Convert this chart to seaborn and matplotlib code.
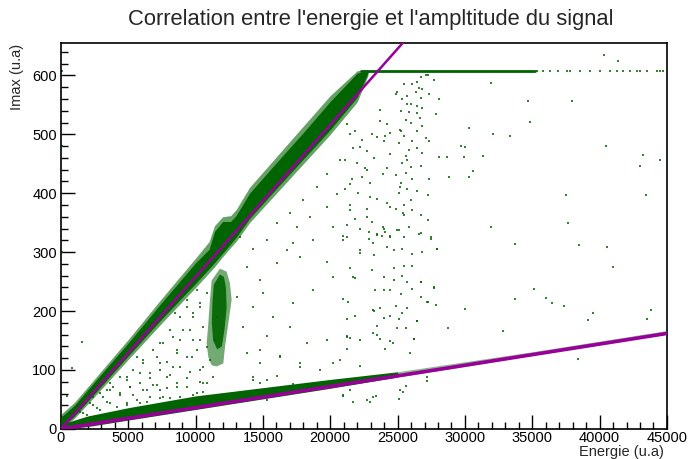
import numpy as np
import pandas as pd
import matplotlib
matplotlib.use("Agg")
import matplotlib.pyplot as plt
import seaborn as sns
from matplotlib.ticker import MultipleLocator

# ---------------- data ----------------
title = "Correlation entre l'energie et l'ampltitude du signal"
xlabel = "Energie (u.a)"
ylabel = "Imax (u.a)"

# dense upper band (energy, lower edge, upper edge)
up_x = [0, 1000, 2500, 5000, 7500, 10000, 11000, 11400, 12000, 12600, 13000, 14000, 16000, 18000, 20000, 22000, 22800]
up_lo = [0, 18, 55, 118, 180, 240, 265, 275, 292, 308, 318, 350, 400, 450, 500, 555, 600]
up_hi = [25, 45, 85, 152, 222, 290, 318, 345, 360, 362, 372, 410, 462, 514, 566, 608, 610]
# core of the upper band
upc_lo = [0, 22, 60, 124, 187, 247, 272, 282, 298, 314, 325, 357, 408, 458, 508, 563, 604]
upc_hi = [20, 40, 80, 146, 215, 282, 305, 335, 352, 352, 362, 400, 452, 503, 556, 604, 608]

# dense lower band
lo_x = [0, 300, 2000, 5000, 10000, 12500, 15000, 20000, 25000]
lo_lo = [0, 0, 4, 15, 33, 42, 51, 69, 88]
lo_hi = [22, 10, 22, 36, 56, 63, 70, 84, 97]
# sparse tail of the lower band
lot_x = [25000, 30000, 35000, 40000, 45000]
lot_lo = [88, 106, 125, 143, 161]
lot_hi = [97, 114, 131, 149, 167]

# vertical blob near E = 12000
blob_x = [11807, 11188, 11065, 10941, 10817, 10941, 11188, 11560, 12055, 12178, 12426, 12673, 12550, 12302]
blob_y = [272, 252, 219, 179, 145, 122, 108, 106, 111, 139, 179, 219, 247, 267]
core_x = [11800, 11350, 11250, 11200, 11300, 11600, 11950, 12150, 12300, 12250, 12100]
core_y = [262, 245, 215, 180, 150, 135, 140, 170, 205, 240, 258]

# saturation at Imax ~ 607
sat_x = [22300, 35200]
sat_y = [607, 607]
sat_dots_x = [35321, 35816, 36311, 36930, 37549, 37796, 38539, 39281, 40023, 40766, 41261,
              41756, 42251, 42746, 42994, 43489, 44231, 44479, 44726]

# isolated events
tri_x = [10074, 9331, 10321, 8465, 9826, 8094, 9578, 8836, 7599, 10321, 6856, 8589, 9702, 6114,
         7351, 8341, 5371, 6609, 7846, 9331, 4876, 5866, 7104, 8589, 3886, 4381, 5371, 6609, 3143,
         3639, 4876, 2401, 2896, 4134, 1411, 1906, 10321, 10569, 10074, 6361, 5619, 4381, 3391,
         5124, 7351, 7599, 5866, 1535, 792, 421]
tri_y = [235.6, 218.7, 207.4, 196, 190.4, 167.8, 167.8, 150.9, 145.2, 150.9, 133.9, 128.2, 122.6,
         111.3, 111.3, 105.6, 100, 94.4, 88.7, 85.9, 83, 77.4, 74.6, 71.8, 71.8, 60.5, 57.6, 54.8,
         54.8, 43.5, 40.7, 40.7, 32.2, 29.4, 29.4, 23.7, 100, 77.4, 60.5, 66.1, 122.6, 88.7, 66.1,
         71.8, 66.1, 54.8, 43.5, 148, 103, 55]

tri2_x = [1411, 2154, 2649, 3391, 4134, 4876, 5619, 6361, 7351, 8094, 8836, 9826, 10569, 2896,
          3639, 4381, 5124, 6114, 6856, 7846, 8589, 9331, 10321, 4876, 5866, 6609, 7351, 8094,
          8836, 9578, 10569, 6114, 7104, 7846, 8589, 9331, 10074, 10816, 7351, 8341, 9084, 9826,
          10569, 8836, 9826, 10321, 10816, 9331, 3639, 2401, 1659, 10816, 11311, 11064, 11435,
          11559]
tri2_y = [37.9, 43.5, 35.0, 46.3, 37.9, 43.5, 49.2, 46.3, 52.0, 52.0, 54.8, 57.6, 63.3, 60.4,
          66.1, 57.6, 71.7, 66.1, 74.6, 68.9, 77.4, 71.7, 80.2, 88.7, 94.3, 85.9, 100, 91.5,
          105.7, 97.2, 105.7, 117, 122.6, 114.1, 133.9, 122.6, 133.9, 139.5, 145.2, 156.5, 167.8,
          150.9, 173.4, 190.4, 196, 213, 230, 207.4, 77.4, 54.8, 26.5, 77.4, 88.7, 117, 150.9,
          190.4]

mid_x = [13291, 14281, 15271, 16756, 17251, 13786, 14776, 16014, 17746, 18736, 19726, 21211,
         22201, 23191, 13044, 14281, 15024, 15766, 17251, 18736, 20221, 21706, 23191, 13539,
         15271, 17004, 18241, 19726, 21211, 23191, 13786, 14776, 16261, 17746, 19231, 20716,
         22201, 14281, 16014, 15271, 17251, 18736, 20964, 22696,
         14281, 14776, 15271, 16014, 16509, 18736, 20221, 21211, 22201, 23439, 24676, 25914,
         27151, 25171, 23191, 21458, 17746, 16261, 14776]
mid_y = [326, 306, 320, 303, 315, 275, 253, 281, 292, 320, 284, 326, 298, 315, 224, 207, 230,
         190, 213, 236, 258, 258, 202, 173, 157, 173, 145, 151, 157, 162, 128, 111, 123, 111,
         100, 117, 106, 83, 89, 49, 77, 72, 55, 49,
         88.7, 77.4, 83, 69, 60.5, 71.8, 111.3, 156.5, 150.9, 159.3, 145.2, 128.3, 88.7, 66.1,
         54.8, 66.1, 105.7, 122.6, 133.9]

upr_x = [24925, 25668, 23688, 24183, 25173, 23440, 21460, 22203, 24430, 25668, 20718, 22698,
         23935, 19728, 21460, 25173, 18985, 20470, 22945, 24183, 17995, 19728, 21460, 17005,
         18490, 22698, 16015, 17500, 20223, 23935, 25420]
upr_y = [572, 552, 541, 518, 507, 496, 501, 479, 467, 456, 456, 439, 433, 433, 416, 411, 411,
         399, 394, 383, 388, 377, 371, 366, 360, 360, 349, 343, 343, 343, 366]

stripe_x = [27094, 27269, 26719, 27719, 26419, 26094, 25469, 26594, 26844, 26344, 27344, 24844,
            25719, 26719, 25344, 28044, 25969, 26419, 26844, 25219, 25844, 26469, 27844, 25594,
            26669, 25969, 26844, 25219, 26419, 24469, 25469, 27094, 24094, 26094, 25094, 27344,
            26469, 25844, 26844, 25594, 25344, 25969, 26719, 24219, 25594, 24844, 27344, 26094,
            25219, 25719, 26469, 25094, 27219, 25969, 25469, 24469, 24844, 26094, 26719, 25469,
            27219, 25844, 25094, 26594, 27469, 24469, 23469, 23844,
            21219, 21844, 22344, 23094, 21719, 22719, 21094, 21969, 22594, 23719, 23969, 23219,
            21594, 22344, 22969, 21094, 22094, 23469, 21469, 22719, 21844, 21219, 23094, 22219,
            23969, 22844, 20969,
            20969, 22844, 23469, 24094, 24469, 24969, 25469, 26719, 27469, 22219, 23219, 24219,
            24719, 25344, 26094, 26844, 27919, 21469, 23094, 24719, 25469, 26094, 21844, 23969,
            24719, 25344, 25719, 26719, 23344, 24469, 25219, 23969, 26094, 26719, 20969, 21344,
            23719, 24844, 25719, 23219, 24469, 25344, 27219, 27719, 21844, 23969, 25094, 26469,
            21219, 23469, 24969, 25594, 23719, 24469, 26219, 21469, 24094, 21219]
stripe_y = [600.6, 600.6, 596.6, 592, 588, 585, 585, 579, 577, 571, 569, 569, 565, 562, 560, 560,
            551, 548, 545, 540, 538, 537, 534, 525, 527, 520, 514, 505, 506, 502, 498, 493, 497,
            488, 485, 488, 477, 474, 468, 463, 451, 445, 447, 443, 434, 431, 425, 425, 417, 408,
            404, 400, 397, 388, 380, 377, 374, 371, 363, 363, 354, 343, 337, 331, 323, 326, 331,
            327,
            517, 505, 491, 500, 477, 471, 457, 451, 443, 522, 488, 460, 425, 428, 417, 408, 400,
            391, 380, 374, 357, 346, 351, 340, 340, 323, 328,
            320, 334, 329, 334, 327, 337, 326, 333, 326, 303, 294.5, 309, 303, 306, 297, 300, 306,
            273, 270, 273, 277, 276, 256, 257, 252, 260, 249, 249, 236, 235, 229, 235, 237, 224,
            220, 215, 206, 209, 206, 200, 192, 197, 216, 240, 192, 189, 186, 183, 186, 175, 172,
            172, 152, 149, 152, 155, 135, 135]

right_x = [40300, 41400, 31970, 34700, 37950, 34800, 30300, 32050, 33350, 29700, 29970, 40470,
           43200, 44500, 42970, 28070, 28660, 29930, 31340, 30600, 28840, 30300, 37500, 43420,
           31930, 37650, 33700, 38440, 40520, 41020, 35130, 33700, 36000, 36460, 37350, 39500,
           39100, 43800, 43550, 32800, 30000, 28720, 27850, 27180, 38400, 27670, 27890, 26770,
           26210, 26420, 25600, 25370, 25100, 23420, 22950, 21720, 20970, 27180, 100, 100, 100]
right_y = [634, 624, 587, 557, 557, 521, 510, 500, 498, 480, 478, 480, 465, 457, 447, 462, 461,
           462, 463, 437, 428, 428, 397, 397, 342, 349, 313, 312, 309, 275, 237, 220, 222, 213,
           209, 197, 185, 202, 187, 167, 204, 172, 210, 216, 118, 239, 306, 249, 152, 183, 72,
           63, 51, 56, 46, 45, 58, 82, 608, 480, 300]

# fitted lines (end points)
fit_up_x = [0, 26500]
fit_up_y = [0, 684]
fit_lo_x = [0, 45000]
fit_lo_y = [0, 162]

# ---------------- drawing ----------------
GREEN = "#006400"
MAGENTA = "#990099"

sns.set_style("ticks")
plt.rcParams["font.family"] = ["Liberation Sans", "DejaVu Sans"]

fig = plt.figure(figsize=(6.89, 4.59), dpi=100)
ax = fig.add_axes([0.0885, 0.0656, 0.8795, 0.8407])

pts = pd.DataFrame({
    "E": tri_x + tri2_x + mid_x + upr_x + stripe_x + right_x + sat_dots_x,
    "I": tri_y + tri2_y + mid_y + upr_y + stripe_y + right_y + [607] * len(sat_dots_x),
})
sns.scatterplot(data=pts, x="E", y="I", ax=ax, marker="s", s=4, linewidth=0,
                color=GREEN, alpha=0.8, legend=False, zorder=2)

ax.fill_between(up_x, up_lo, up_hi, color=GREEN, alpha=0.6, lw=0, zorder=3)
ax.fill_between(up_x, upc_lo, upc_hi, color=GREEN, lw=0, zorder=3)
ax.fill_between(lo_x, lo_lo, lo_hi, color=GREEN, lw=0, zorder=3)
ax.fill_between(lot_x, lot_lo, lot_hi, color=GREEN, alpha=0.45, lw=0, zorder=3)
ax.fill(blob_x, blob_y, color=GREEN, alpha=0.55, lw=0, zorder=3)
ax.fill(core_x, core_y, color=GREEN, alpha=0.9, lw=0, zorder=3)
sns.lineplot(x=sat_x, y=sat_y, ax=ax, color=GREEN, lw=2.0, zorder=3)

sns.lineplot(x=fit_up_x, y=fit_up_y, ax=ax, color=MAGENTA, lw=1.8, zorder=4)
sns.lineplot(x=fit_lo_x, y=fit_lo_y, ax=ax, color=MAGENTA, lw=2.6, zorder=4)

ax.set_xlim(0, 45000)
ax.set_ylim(0, 655)

ax.xaxis.set_major_locator(MultipleLocator(5000))
ax.xaxis.set_minor_locator(MultipleLocator(1000))
ax.yaxis.set_major_locator(MultipleLocator(100))
ax.yaxis.set_minor_locator(MultipleLocator(20))
ax.tick_params(which="both", direction="in", top=False, right=False, labelsize=10.5,
               colors="black", width=1)
ax.tick_params(which="major", length=10)
ax.tick_params(axis="x", which="major", pad=1.5)
ax.tick_params(axis="y", which="major", pad=3)
ax.tick_params(which="minor", length=5)
for sp in ax.spines.values():
    sp.set_color("black")
    sp.set_linewidth(1.2)

ax.set_xlabel("")
ax.set_ylabel("")
fig.text(664 / 689, 1 - 456 / 459, xlabel, fontsize=10.5, ha="right", va="baseline")
fig.text(17 / 689, 1 - 44 / 459, ylabel, fontsize=10.5, ha="center", va="top", rotation=90)
fig.text(371 / 689, 1 - 20 / 459, title, fontsize=15.8, ha="center", va="center")

fig.savefig("out.png", dpi=100, facecolor="white")
